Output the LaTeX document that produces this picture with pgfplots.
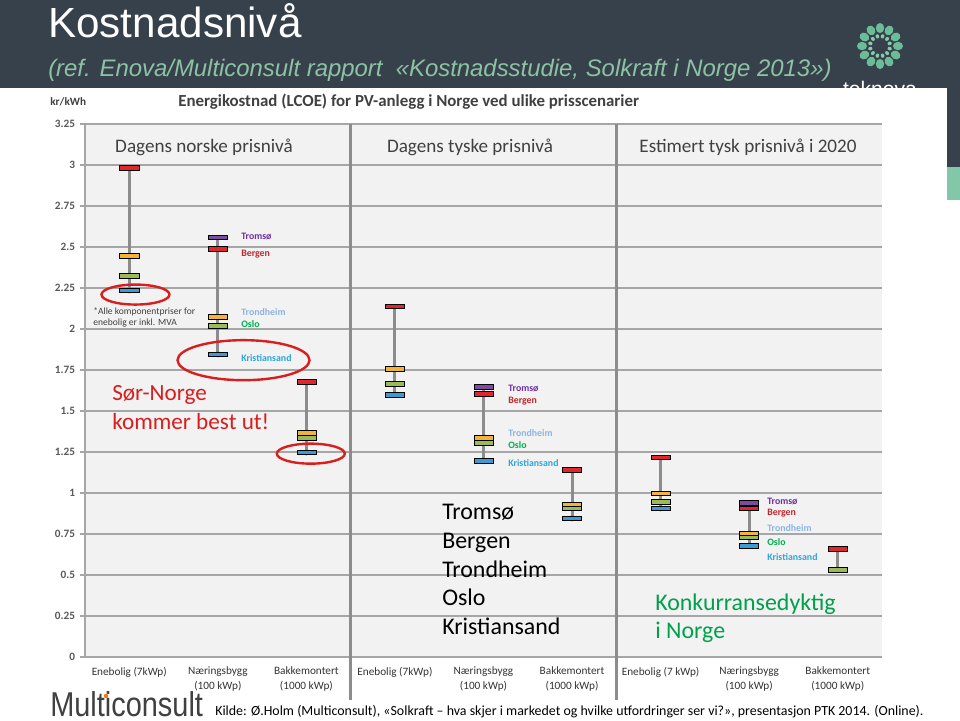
\documentclass[border=0pt]{standalone}
\usepackage{fontspec}
\usepackage{graphicx}
\usepackage{pgfplots}
\usepackage{pgfplotstable}
\pgfplotsset{compat=1.18}
\setmainfont{Carlito}
\newfontfamily\arialfont{Liberation Sans}

\definecolor{headbg}{HTML}{37414B}
\definecolor{subgreen}{HTML}{8DC2A4}
\definecolor{logogreen}{HTML}{6CBD97}
\definecolor{plotbg}{HTML}{F2F2F2}
\definecolor{gridgray}{HTML}{A6A6A6}
\definecolor{stemgray}{HTML}{8C8C8C}
\definecolor{txtgray}{HTML}{404040}
\definecolor{tickgray}{HTML}{595959}
\definecolor{mred}{HTML}{E2262B}
\definecolor{myellow}{HTML}{F2B53A}
\definecolor{mgreen}{HTML}{9BBB59}
\definecolor{mblue}{HTML}{3E9AD3}
\definecolor{mpurple}{HTML}{7D4BA0}
\definecolor{ltromso}{HTML}{7030A0}
\definecolor{lbergen}{HTML}{C0282D}
\definecolor{ltrond}{HTML}{8DB4E2}
\definecolor{loslo}{HTML}{00B050}
\definecolor{lkrist}{HTML}{2EA6DB}
\definecolor{annred}{HTML}{D81E1E}
\definecolor{konk}{HTML}{00A04B}

% flat horizontal bar used as marker
\pgfdeclareplotmark{hbar}{%
  \pgfpathrectangle{\pgfqpoint{-2.4mm}{-0.6mm}}{\pgfqpoint{4.8mm}{1.2mm}}%
  \pgfusepathqfillstroke}

% categories 0..8: (Enebolig, Naeringsbygg, Bakkemontert) x 3 price scenarios
\pgfplotstableread{
x lo hi
0 2.236 2.985
1 1.846 2.559
2 1.248 1.679
3 1.598 2.138
4 1.195 1.646
5 0.846 1.140
6 0.907 1.218
7 0.677 0.939
8 0.530 0.659
}\ranges
\pgfplotstableread{
x y
1 2.559
4 1.646
7 0.939
}\tromso
\pgfplotstableread{
x y
0 2.985
1 2.488
2 1.679
3 2.138
4 1.606
5 1.140
6 1.218
7 0.907
8 0.659
}\bergen
\pgfplotstableread{
x y
0 2.447
1 2.077
2 1.368
3 1.756
4 1.335
5 0.931
6 0.998
7 0.754
}\trondheim
\pgfplotstableread{
x y
0 2.327
1 2.018
2 1.337
3 1.667
4 1.307
5 0.910
6 0.947
7 0.734
8 0.530
}\oslo
\pgfplotstableread{
x y
0 2.236
1 1.846
2 1.248
3 1.598
4 1.195
5 0.846
6 0.907
7 0.677
}\kristiansand

\begin{document}
\begin{tikzpicture}
\useasboundingbox (0,0) rectangle (240mm,-180mm);
% slide background, in pixel units (1px = 0.25mm, y downwards)
\begin{scope}[x=0.25mm, y=-0.25mm]
\fill[white] (0,0) rectangle (960,720);
\fill[headbg] (0,0) rectangle (960,88);
\fill[headbg] (947,88) rectangle (960,167);
\fill[logogreen!85!white] (947,167) rectangle (960,200);
\node[anchor=base west, inner sep=0, text=white] at (48,37)
  {\arialfont\fontsize{30}{30}\selectfont Kostnadsnivå};
\node[anchor=base west, inner sep=0, text=subgreen] at (48,76)
  {\arialfont\itshape\fontsize{17}{17}\selectfont (ref. Enova/Multiconsult rapport\ \ «Kostnadsstudie, Solkraft i Norge 2013»)};
% teknova logo
\foreach \a in {0,30,...,330}{
  \fill[logogreen, rotate around={\a:(880,46)}] (880,28) ellipse [x radius=4.2, y radius=5];
  \fill[logogreen!80!white, rotate around={\a+15:(880,46)}] (880,36) ellipse [x radius=1.8, y radius=2.2];
}
\node[text=white, inner sep=0, anchor=base] at (880,96)
  {\arialfont\fontsize{15}{15}\selectfont teknova};
\fill[white] (40,88) rectangle (947,720);
\end{scope}

\begin{axis}[
  at={(21.25mm,-164.25mm)}, anchor=south west,
  scale only axis, width=199.25mm, height=133.25mm,
  xmin=-0.5, xmax=8.5, ymin=0, ymax=3.25,
  axis background/.style={fill=plotbg},
  axis x line*=bottom, axis y line*=left,
  axis line style={draw=gridgray, line width=1pt},
  ytick={0,0.25,0.5,0.75,1,1.25,1.5,1.75,2,2.25,2.5,2.75,3,3.25},
  yticklabels={0,0.25,0.5,0.75,1,1.25,1.5,1.75,2,2.25,2.5,2.75,3,3.25},
  ymajorgrids, grid style={draw=gridgray, line width=0.9pt},
  tick align=outside, major tick length=1.25mm,
  ytick style={draw=gridgray, line width=0.9pt},
  xtick={0,1,2,3,4,5,6,7,8}, xtick style={draw=none},
  xticklabels={Enebolig (7kWp), Næringsbygg\\(100 kWp), Bakkemontert\\(1000 kWp),
    Enebolig (7kWp), Næringsbygg\\(100 kWp), Bakkemontert\\(1000 kWp),
    Enebolig (7 kWp), Næringsbygg\\(100 kWp), Bakkemontert\\(1000 kWp)},
  xticklabel style={align=center, text=black!80, font=\fontsize{8}{10.5}\selectfont},
  yticklabel style={text=tickgray, font=\bfseries\fontsize{8}{8}\selectfont},
  /pgf/number format/assume math mode=true,
  clip=false,
  every axis plot/.append style={mark options={draw=gridgray!80!black, line width=0.4pt}},
]
\addplot[stemgray, line width=0.75mm, only marks, mark=none,
  error bars/.cd, y dir=plus, y explicit, error mark=none,
  error bar style={stemgray, line width=0.75mm}]
  table[x=x, y=lo, y error expr=\thisrow{hi}-\thisrow{lo}] {\ranges};
\addplot[only marks, mark=hbar, mark options={fill=mblue}] table {\kristiansand};
\addplot[only marks, mark=hbar, mark options={fill=mgreen}] table {\oslo};
\addplot[only marks, mark=hbar, mark options={fill=myellow}] table {\trondheim};
\addplot[only marks, mark=hbar, mark options={fill=mpurple}] table {\tromso};
\addplot[only marks, mark=hbar, mark options={fill=mred}] table {\bergen};
% highlight ellipses
\draw[annred, line width=0.6mm] (axis cs:0.07,2.21) ellipse [x radius=8.5mm, y radius=2.5mm];
\draw[annred, line width=0.6mm] (axis cs:1.29,1.81) ellipse [x radius=16.5mm, y radius=5mm];
\draw[annred, line width=0.6mm] (axis cs:2.05,1.24) ellipse [x radius=8.5mm, y radius=2.5mm];
\end{axis}

\begin{scope}[x=0.25mm, y=-0.25mm]
% group separators
\draw[stemgray, line width=0.8mm] (350.8,124) -- (350.8,700);
\draw[stemgray, line width=0.8mm] (616.5,124) -- (616.5,700);

% chart title and unit
\node[anchor=west, inner sep=0, text=txtgray] at (50,102)
  {\bfseries\fontsize{8}{8}\selectfont kr/kWh};
\node[anchor=west, inner sep=0, text=txtgray] at (178,102)
  {\bfseries\fontsize{12}{12}\selectfont Energikostnad (LCOE) for PV-anlegg i Norge ved ulike prisscenarier};

% scenario headings
\node[text=txtgray, inner sep=0] at (204,147) {\fontsize{13.6}{13.6}\selectfont Dagens norske prisnivå};
\node[text=txtgray, inner sep=0] at (470,147) {\fontsize{13.6}{13.6}\selectfont Dagens tyske prisnivå};
\node[text=txtgray, inner sep=0] at (748,147) {\fontsize{13.6}{13.6}\selectfont Estimert tysk prisnivå i 2020};

% footnote
\node[anchor=west, inner sep=0, text=txtgray] at (93,312) {\fontsize{6.8}{6.8}\selectfont *Alle komponentpriser for};
\node[anchor=west, inner sep=0, text=txtgray] at (93,323) {\fontsize{6.8}{6.8}\selectfont enebolig er inkl. MVA};

% city labels
\tikzset{city/.style={anchor=west, inner sep=0, font=\bfseries\fontsize{7}{7}\selectfont}}
\node[city, text=ltromso] at (241,236) {Tromsø};
\node[city, text=lbergen] at (241,254) {Bergen};
\node[city, text=ltrond] at (241,312) {Trondheim};
\node[city, text=loslo] at (241,324) {Oslo};
\node[city, text=lkrist] at (241,358) {Kristiansand};
\node[city, text=ltromso] at (508,388) {Tromsø};
\node[city, text=lbergen] at (508,401) {Bergen};
\node[city, text=ltrond] at (508,433) {Trondheim};
\node[city, text=loslo] at (508,445) {Oslo};
\node[city, text=lkrist] at (508,463) {Kristiansand};
\node[city, text=ltromso] at (767,501) {Tromsø};
\node[city, text=lbergen] at (767,513) {Bergen};
\node[city, text=ltrond] at (767,528) {Trondheim};
\node[city, text=loslo] at (767,542) {Oslo};
\node[city, text=lkrist] at (767,557) {Kristiansand};

% annotations (baselines)
\tikzset{big/.style={anchor=base west, inner sep=0, font=\fontsize{17}{17}\selectfont}}
\node[big, text=annred, font=\fontsize{16.5}{16.5}\selectfont] at (112,400) {Sør-Norge};
\node[big, text=annred, font=\fontsize{16.5}{16.5}\selectfont] at (112,429) {kommer best ut!};
\foreach \t/\yy in {Tromsø/519, Bergen/548, Trondheim/577, Oslo/605, Kristiansand/634}{
  \node[big, text=black] at (442,\yy) {\t};
}
\node[big, text=konk] at (655,610) {Konkurransedyktig};
\node[big, text=konk] at (655,638) {i Norge};

% source line
\node[anchor=base west, inner sep=0, text=txtgray] at (50,716)
  {\arialfont\fontsize{24.5}{24.5}\selectfont\scalebox{0.84}[1]{Multiconsult}};
\fill[orange!90!red] (106,696) circle (2.2);
\node[anchor=base west, inner sep=0, text=black] at (215,715)
  {\fontsize{9.9}{9.9}\selectfont Kilde: Ø.Holm (Multiconsult), «Solkraft – hva skjer i markedet og hvilke utfordringer ser vi?», presentasjon PTK 2014. (Online).};
\end{scope}
\end{tikzpicture}
\end{document}
